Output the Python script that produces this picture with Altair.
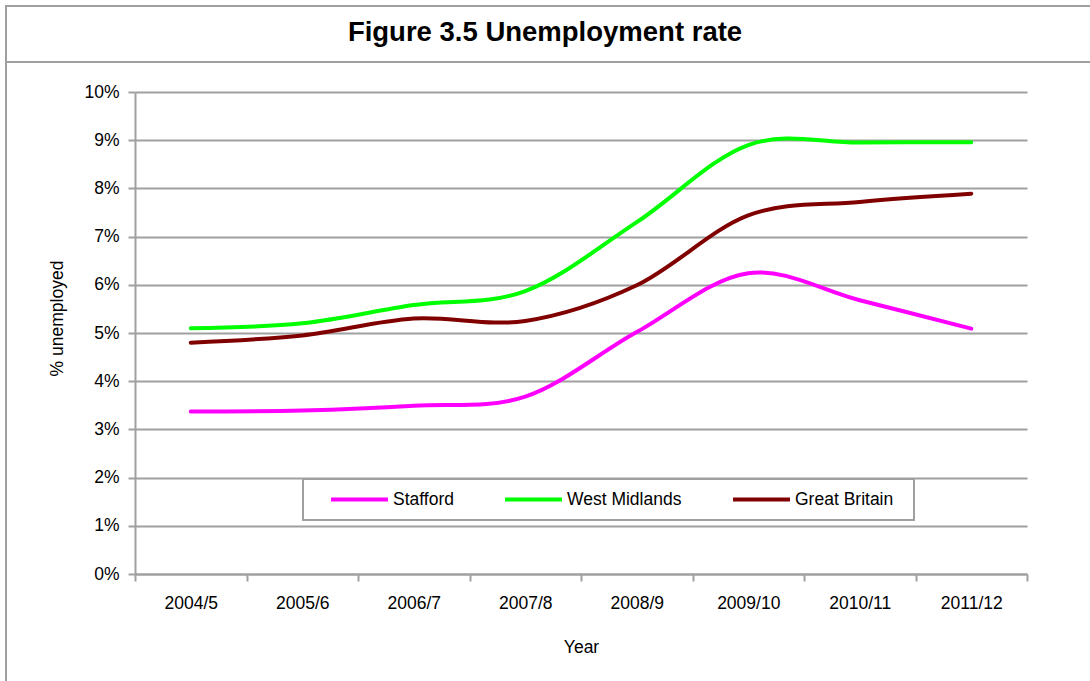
import altair as alt
import pandas as pd

years = ["2004/5", "2005/6", "2006/7", "2007/8", "2008/9", "2009/10", "2010/11", "2011/12"]
series = ["Stafford", "West Midlands", "Great Britain"]
stafford = [3.37, 3.39, 3.49, 3.68, 5.02, 6.24, 5.68, 5.09]
west_midlands = [5.10, 5.20, 5.58, 5.87, 7.30, 8.90, 8.95, 8.96]
great_britain = [4.80, 4.95, 5.30, 5.25, 5.99, 7.44, 7.72, 7.89]
colors = ["#FF00FF", "#00FF00", "#800000"]
y_ticks = [0, 1, 2, 3, 4, 5, 6, 7, 8, 9, 10]
chart_title = "Figure 3.5 Unemployment rate"

rows = []
for name, vals in zip(series, [stafford, west_midlands, great_britain]):
    for yr, v in zip(years, vals):
        rows.append({"year": yr, "series": name, "value": v})
df = pd.DataFrame(rows)

GRAY = "#A0A0A0"
FONT = "Liberation Sans"
dummy = pd.DataFrame({"a": [0]})

frame = alt.Chart(dummy).mark_rect(fillOpacity=0, stroke=GRAY, strokeWidth=2).encode(
    x=alt.value(-129), x2=alt.value(980), y=alt.value(-86), y2=alt.value(620)
)
sep = alt.Chart(dummy).mark_rule(color=GRAY, strokeWidth=2).encode(
    x=alt.value(-129), x2=alt.value(980), y=alt.value(-30)
)
title_text = alt.Chart(dummy).mark_text(
    font=FONT, fontSize=27.5, fontWeight="bold", color="black", align="center", baseline="middle"
).encode(x=alt.value(410), y=alt.value(-59), text=alt.value(chart_title))
legend_box = alt.Chart(dummy).mark_rect(fill="white", stroke=GRAY, strokeWidth=2).encode(
    x=alt.value(168), x2=alt.value(779), y=alt.value(387), y2=alt.value(428)
)

lines = alt.Chart(df).mark_line(strokeWidth=4, interpolate="cardinal", strokeCap="round").encode(
    x=alt.X(
        "year:N",
        sort=years,
        bandPosition=0.5,
        scale=alt.Scale(type="band", paddingInner=0, paddingOuter=0),
        axis=alt.Axis(
            title="Year", tickBand="extent", labelAngle=0, labelPadding=13,
            grid=False, titleY=73, titleBaseline="middle",
        ),
    ),
    y=alt.Y(
        "value:Q",
        scale=alt.Scale(domain=[0, 10], nice=False),
        axis=alt.Axis(
            values=y_ticks, labelExpr="datum.value + '%'", title="% unemployed",
            grid=True, labelPadding=9, titleX=-78, titleY=226, titleBaseline="middle",
        ),
    ),
    color=alt.Color(
        "series:N",
        sort=series,
        scale=alt.Scale(domain=series, range=colors),
        legend=alt.Legend(
            title=None, orient="none", legendX=194, legendY=377, direction="horizontal",
            columns=3, symbolType="stroke", symbolSize=3249, symbolStrokeWidth=4,
            labelFontSize=17.5, labelFont=FONT, labelColor="black", labelOffset=3,
            columnPadding=43, padding=0,
        ),
    ),
)

chart = alt.layer(frame, sep, title_text, legend_box, lines).properties(
    width=892,
    height=482,
    background="white",
    autosize=alt.AutoSizeParams(type="none"),
    padding={"left": 135, "top": 92, "right": 63, "bottom": 107},
).configure_axis(
    domainColor=GRAY, domainWidth=2, tickColor=GRAY, tickWidth=2, tickSize=7,
    gridColor=GRAY, gridWidth=2, labelFont=FONT, labelFontSize=17.5, labelColor="black",
    titleFont=FONT, titleFontSize=17.5, titleFontWeight="normal", titleColor="black",
).configure_view(strokeWidth=0)

chart.save("out.html", embed_options={"renderer": "svg", "actions": False})
